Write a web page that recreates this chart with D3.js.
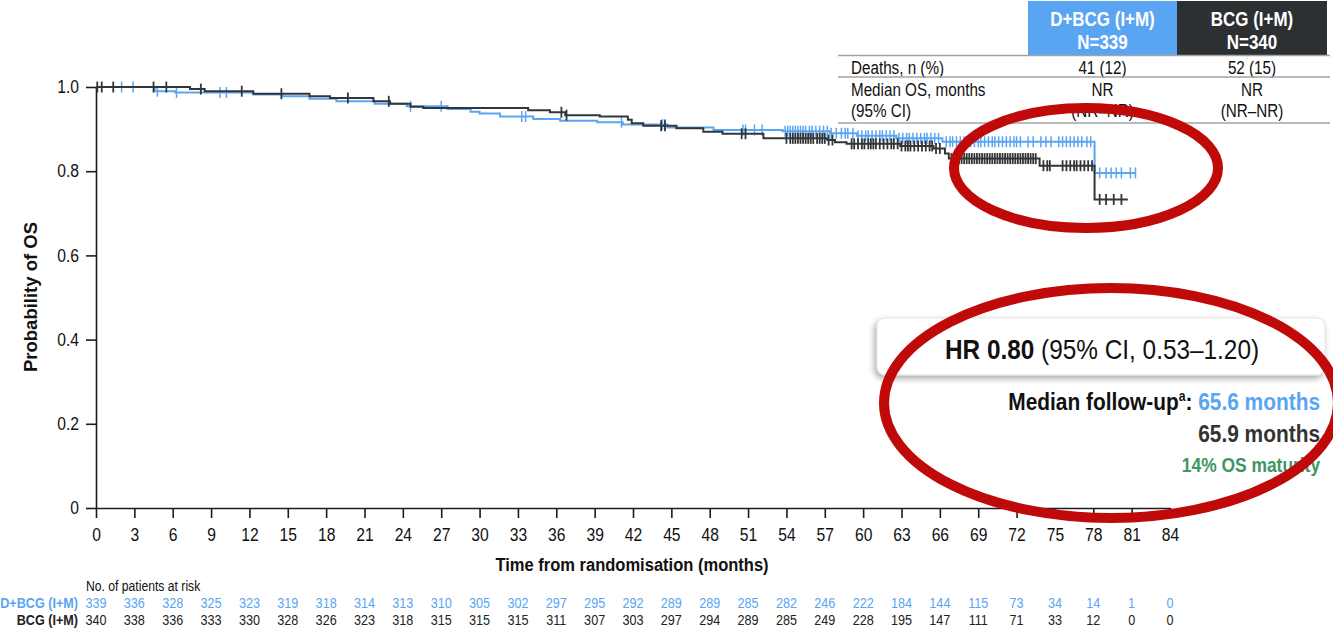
<!DOCTYPE html>
<html>
<head>
<meta charset="utf-8">
<script src="https://cdn.jsdelivr.net/npm/d3@7"></script>
<style>
  html, body { margin: 0; padding: 0; background: #fff; }
  svg { display: block; font-family: "Liberation Sans", Arial, Helvetica, sans-serif; }
</style>
</head>
<body>
<svg id="chart" width="1333" height="629"></svg>
<script>
// ---- Axis ticks ----
const monthTicks = [0, 3, 6, 9, 12, 15, 18, 21, 24, 27, 30, 33, 36, 39, 42, 45, 48, 51, 54, 57, 60, 63, 66, 69, 72, 75, 78, 81, 84];
const probTicks = [0, 0.2, 0.4, 0.6, 0.8, 1.0];

// ---- Kaplan–Meier steps: D+BCG (I+M) ----
const dbcgEventTimes = [0, 4.6, 6.2, 12.3, 14.6, 16.7, 18.8, 21.8, 24.3, 27.5, 29.3, 30.0, 31.6, 34.2, 36.3, 39.2, 41.2, 44.7, 48.3, 53.7, 57.4, 59.5, 62.6, 66.2, 78.1];
const dbcgSurvival   = [1.0, 0.990, 0.987, 0.982, 0.978, 0.972, 0.966, 0.960, 0.954, 0.948, 0.941, 0.937, 0.930, 0.924, 0.920, 0.916, 0.911, 0.904, 0.898, 0.895, 0.890, 0.884, 0.878, 0.870, 0.796];
const dbcgLastFollowUp = 81.3;
const dbcgCensored = [2.0, 2.9, 4.8, 6.3, 9.7, 10.2, 24.6, 27.0, 33.3, 33.6, 41.1, 44.3, 44.5, 50.6, 50.8, 51.5, 52.1,
  53.9, 54.1, 54.3, 54.5, 54.7, 54.9, 55.1, 55.3, 55.5, 55.8, 56.0, 56.3, 56.6, 56.9, 57.2, 57.5, 57.9, 58.3, 58.6, 58.8,
  59.2, 59.6, 59.9, 60.2, 60.4, 60.7, 61.0, 61.3, 61.5, 61.8, 62.1, 62.4, 62.8, 63.1, 63.4, 63.6, 63.9, 64.2, 64.5, 64.8,
  65.0, 65.3, 65.6, 65.9, 66.5, 66.8, 67.0, 67.3, 67.6, 67.9, 68.1, 68.4, 68.7, 69.0, 69.2, 69.5, 69.8, 70.1, 70.3, 70.6,
  70.9, 71.2, 71.5, 71.8, 72.0, 72.3, 72.9, 73.3, 73.9, 74.3, 74.7, 75.3, 75.6, 75.9, 76.2, 76.5, 76.8, 77.1, 77.5, 77.8,
  78.5, 79.0, 79.4, 79.8, 80.2, 80.9, 81.3];

// ---- Kaplan–Meier steps: BCG (I+M) ----
const bcgEventTimes = [0, 7.35, 8.5, 12.3, 16.7, 18.3, 21.7, 23.0, 24.6, 25.6, 33.8, 35.5, 36.7, 39.4, 41.6, 41.9, 42.8, 45.4, 47.5, 49.0, 52.2, 57.2, 57.8, 58.7, 62.9, 65.5, 66.4, 66.7, 73.8, 78.1];
const bcgSurvival   = [1.0, 0.995, 0.990, 0.984, 0.978, 0.974, 0.966, 0.960, 0.953, 0.950, 0.945, 0.940, 0.933, 0.930, 0.922, 0.914, 0.908, 0.902, 0.894, 0.889, 0.878, 0.874, 0.869, 0.865, 0.860, 0.854, 0.842, 0.830, 0.813, 0.733];
const bcgLastFollowUp = 80.7;
const bcgCensored = [0.1, 0.45, 1.35, 4.5, 5.5, 8.2, 11.4, 14.5, 19.7, 22.9, 36.4, 36.8, 44.2, 44.5, 50.5, 50.8,
  54.0, 54.3, 54.5, 54.7, 54.9, 55.1, 55.3, 55.5, 55.7, 55.9, 56.1, 56.4, 56.6, 56.8, 57.0, 57.3, 57.6,
  59.1, 59.3, 59.6, 59.9, 60.1, 60.4, 60.6, 60.8, 61.0, 61.3, 61.6, 61.9, 62.2, 62.4, 62.7, 63.0, 63.3, 63.5, 63.7,
  64.0, 64.3, 64.6, 64.9, 65.2, 65.4, 65.7, 66.0, 66.9, 67.1, 67.3, 67.5, 67.7, 67.9, 68.1, 68.3, 68.5, 68.7, 68.9,
  69.1, 69.3, 69.5, 69.7, 69.9, 70.1, 70.3, 70.5, 70.7, 70.9, 71.1, 71.3, 71.5, 71.7, 71.9, 72.1, 72.3, 72.5, 72.7,
  72.9, 73.1, 73.3, 73.5, 74.1, 74.4, 74.6, 75.6, 75.9, 76.2, 76.5, 76.7, 77.0, 77.3, 77.6, 77.9,
  78.5, 79.0, 79.6, 80.2];

// ---- Numbers at risk ----
const atRiskDBCG = [339, 336, 328, 325, 323, 319, 318, 314, 313, 310, 305, 302, 297, 295, 292, 289, 289, 285, 282, 246, 222, 184, 144, 115, 73, 34, 14, 1, 0];
const atRiskBCG  = [340, 338, 336, 333, 330, 328, 326, 323, 318, 315, 315, 315, 311, 307, 303, 297, 294, 289, 285, 249, 228, 195, 147, 111, 71, 33, 12, 0, 0];

// ---- Summary table ----
const armLabels = ["D+BCG (I+M)", "BCG (I+M)"];
const armN = ["N=339", "N=340"];
const deathsText = ["41 (12)", "52 (15)"];
const medianText = ["NR", "NR"];
const medianCIText = ["(NR–NR)", "(NR–NR)"];

const BLUE = "#5aa5f3";
const DARK = "#333638";
const HEAD_DARK = "#2d3032";
const RED = "#c00a0a";
const GREEN = "#3e9565";
const SQUEEZE = 0.87;

const svg = d3.select("#chart");

// narrow the glyph widths of a text selection around its anchor
function condense(sel, origin) {
  sel.style("transform-box", "fill-box")
     .style("transform-origin", origin)
     .style("transform", `scaleX(${SQUEEZE})`);
  return sel;
}

const x = d3.scaleLinear().domain([0, 84]).range([96, 1170]);
const y = d3.scaleLinear().domain([0, 1]).range([508, 87]);

// ---- axes ----
const gx = svg.append("g")
  .attr("transform", `translate(0,${y(0)})`)
  .call(d3.axisBottom(x).tickValues(monthTicks).tickSize(10).tickSizeOuter(0).tickPadding(10).tickFormat(d3.format("d")));
const gy = svg.append("g")
  .attr("transform", `translate(${x(0)},0)`)
  .call(d3.axisLeft(y).tickValues(probTicks).tickSize(10).tickSizeOuter(0).tickPadding(7)
        .tickFormat(d => d === 0 ? "0" : d3.format(".1f")(d)));

[gx, gy].forEach(g => {
  g.attr("font-size", null).attr("font-family", null);
  g.selectAll("path, line").attr("stroke", "#1c1c1c").attr("stroke-width", 1.6);
  g.selectAll("text").attr("font-size", 18).attr("fill", "#111");
});
condense(gx.selectAll("text"), "center");
condense(gy.selectAll("text"), "right center");

condense(svg.append("text")
  .attr("x", 632).attr("y", 571)
  .attr("text-anchor", "middle")
  .attr("font-size", 19).attr("font-weight", "bold").attr("fill", "#111")
  .text("Time from randomisation (months)"), "center");

svg.append("text")
  .attr("transform", "translate(37,297) rotate(-90)")
  .attr("text-anchor", "middle")
  .attr("font-size", 18.5).attr("font-weight", "bold").attr("fill", "#111")
  .text("Probability of OS");

// ---- KM curves ----
function survivalAt(times, surv, t) {
  let s = surv[0];
  for (let i = 0; i < times.length; i++) { if (times[i] <= t) s = surv[i]; }
  return s;
}
function stepPoints(times, surv, end) {
  const pts = times.map((t, i) => [t, surv[i]]);
  pts.push([end, surv[surv.length - 1]]);
  return pts;
}
const km = d3.line().x(d => x(d[0])).y(d => y(d[1])).curve(d3.curveStepAfter);

function drawArm(times, surv, end, censored, color, lw, tw) {
  svg.append("path")
    .datum(stepPoints(times, surv, end))
    .attr("d", km)
    .attr("fill", "none")
    .attr("stroke", color)
    .attr("stroke-width", lw);
  svg.append("g").selectAll("line")
    .data(censored)
    .join("line")
    .attr("x1", d => x(d)).attr("x2", d => x(d))
    .attr("y1", d => y(survivalAt(times, surv, d)) - 5.5)
    .attr("y2", d => y(survivalAt(times, surv, d)) + 5.5)
    .attr("stroke", color)
    .attr("stroke-width", tw);
}
drawArm(dbcgEventTimes, dbcgSurvival, dbcgLastFollowUp, dbcgCensored, BLUE, 2, 1.5);
drawArm(bcgEventTimes, bcgSurvival, bcgLastFollowUp, bcgCensored, DARK, 2, 1.8);

// ---- Numbers at risk ----
condense(svg.append("text")
  .attr("x", 86).attr("y", 591)
  .attr("font-size", 14).attr("fill", "#111")
  .text("No. of patients at risk"), "left center");

condense(svg.append("text")
  .attr("x", 78).attr("y", 608)
  .attr("text-anchor", "end")
  .attr("font-size", 14.5).attr("font-weight", "bold").attr("fill", BLUE)
  .text(armLabels[0]), "right center");
condense(svg.append("text")
  .attr("x", 78).attr("y", 625)
  .attr("text-anchor", "end")
  .attr("font-size", 14.5).attr("font-weight", "bold").attr("fill", "#222")
  .text(armLabels[1]), "right center");

[[atRiskDBCG, 608, BLUE], [atRiskBCG, 625, "#222"]].forEach(([vals, yy, col]) => {
  condense(svg.append("g").selectAll("text")
    .data(vals)
    .join("text")
    .attr("x", (d, i) => x(monthTicks[i]))
    .attr("y", yy)
    .attr("text-anchor", "middle")
    .attr("font-size", 14.5)
    .attr("fill", col)
    .text(d => d), "center");
});

// ---- Summary table (top right) ----
const colX = [1102.5, 1252];
const cellEdges = [1028, 1177, 1327];
svg.append("rect").attr("x", cellEdges[0]).attr("y", 1).attr("width", cellEdges[1] - cellEdges[0]).attr("height", 54).attr("fill", BLUE);
svg.append("rect").attr("x", cellEdges[1]).attr("y", 1).attr("width", cellEdges[2] - cellEdges[1]).attr("height", 54).attr("fill", HEAD_DARK);

armLabels.forEach((lab, i) => {
  condense(svg.append("text").attr("x", colX[i]).attr("y", 26).attr("text-anchor", "middle")
    .attr("font-size", 19.5).attr("font-weight", "bold").attr("fill", "#fff").text(lab), "center");
  condense(svg.append("text").attr("x", colX[i]).attr("y", 49).attr("text-anchor", "middle")
    .attr("font-size", 19.5).attr("font-weight", "bold").attr("fill", "#fff").text(armN[i]), "center");
  condense(svg.append("text").attr("x", colX[i]).attr("y", 74).attr("text-anchor", "middle")
    .attr("font-size", 17.5).attr("fill", "#111").text(deathsText[i]), "center");
  condense(svg.append("text").attr("x", colX[i]).attr("y", 96.5).attr("text-anchor", "middle")
    .attr("font-size", 17.5).attr("fill", "#111").text(medianText[i]), "center");
  condense(svg.append("text").attr("x", colX[i]).attr("y", 117.5).attr("text-anchor", "middle")
    .attr("font-size", 17.5).attr("fill", "#111").text(medianCIText[i]), "center");
});
[["Deaths, n (%)", 74], ["Median OS, months", 96.5], ["(95% CI)", 117.5]].forEach(([t, yy]) => {
  condense(svg.append("text").attr("x", 851).attr("y", yy)
    .attr("font-size", 17.5).attr("fill", "#111").text(t), "left center");
});
[55.5, 77, 123].forEach(yy => {
  svg.append("line").attr("x1", 838).attr("x2", 1330).attr("y1", yy).attr("y2", yy)
    .attr("stroke", "#a3a3a3").attr("stroke-width", 1.5);
});

// ---- Hazard ratio callout ----
const defs = svg.append("defs");
const shadow = defs.append("filter").attr("id", "boxShadow").attr("x", "-10%").attr("y", "-30%").attr("width", "120%").attr("height", "170%");
shadow.append("feDropShadow").attr("dx", -2).attr("dy", 3).attr("stdDeviation", 3)
  .attr("flood-color", "#000").attr("flood-opacity", 0.35);

svg.append("rect")
  .attr("x", 877).attr("y", 318).attr("width", 448).attr("height", 57).attr("rx", 8)
  .attr("fill", "#fff").attr("stroke", "#e2e2e2").attr("stroke-width", 1)
  .attr("filter", "url(#boxShadow)");

const hr = svg.append("text").attr("x", 945).attr("y", 359).attr("font-size", 28).attr("fill", "#111");
hr.append("tspan").attr("font-weight", "bold").text("HR 0.80");
hr.append("tspan").text(" (95% CI, 0.53–1.20)");
condense(hr, "left center");

const fu = svg.append("text").attr("x", 1320).attr("y", 410).attr("text-anchor", "end")
  .attr("font-size", 24).attr("font-weight", "bold").attr("fill", "#111");
fu.append("tspan").text("Median follow-up");
fu.append("tspan").attr("font-size", 14).attr("dy", -9).text("a");
fu.append("tspan").attr("dy", 9).text(": ");
fu.append("tspan").attr("fill", BLUE).text("65.6 months");
condense(fu, "right center");

condense(svg.append("text").attr("x", 1320).attr("y", 442).attr("text-anchor", "end")
  .attr("font-size", 24).attr("font-weight", "bold").attr("fill", "#333").text("65.9 months"), "right center");

condense(svg.append("text").attr("x", 1320).attr("y", 472).attr("text-anchor", "end")
  .attr("font-size", 20).attr("font-weight", "bold").attr("fill", GREEN).text("14% OS maturity"), "right center");

// ---- Red highlight rings ----
svg.append("ellipse").attr("cx", 1086).attr("cy", 168).attr("rx", 132).attr("ry", 60)
  .attr("fill", "none").attr("stroke", RED).attr("stroke-width", 10);
svg.append("ellipse").attr("cx", 1111).attr("cy", 403).attr("rx", 227).attr("ry", 115)
  .attr("fill", "none").attr("stroke", RED).attr("stroke-width", 10);
</script>
</body>
</html>
